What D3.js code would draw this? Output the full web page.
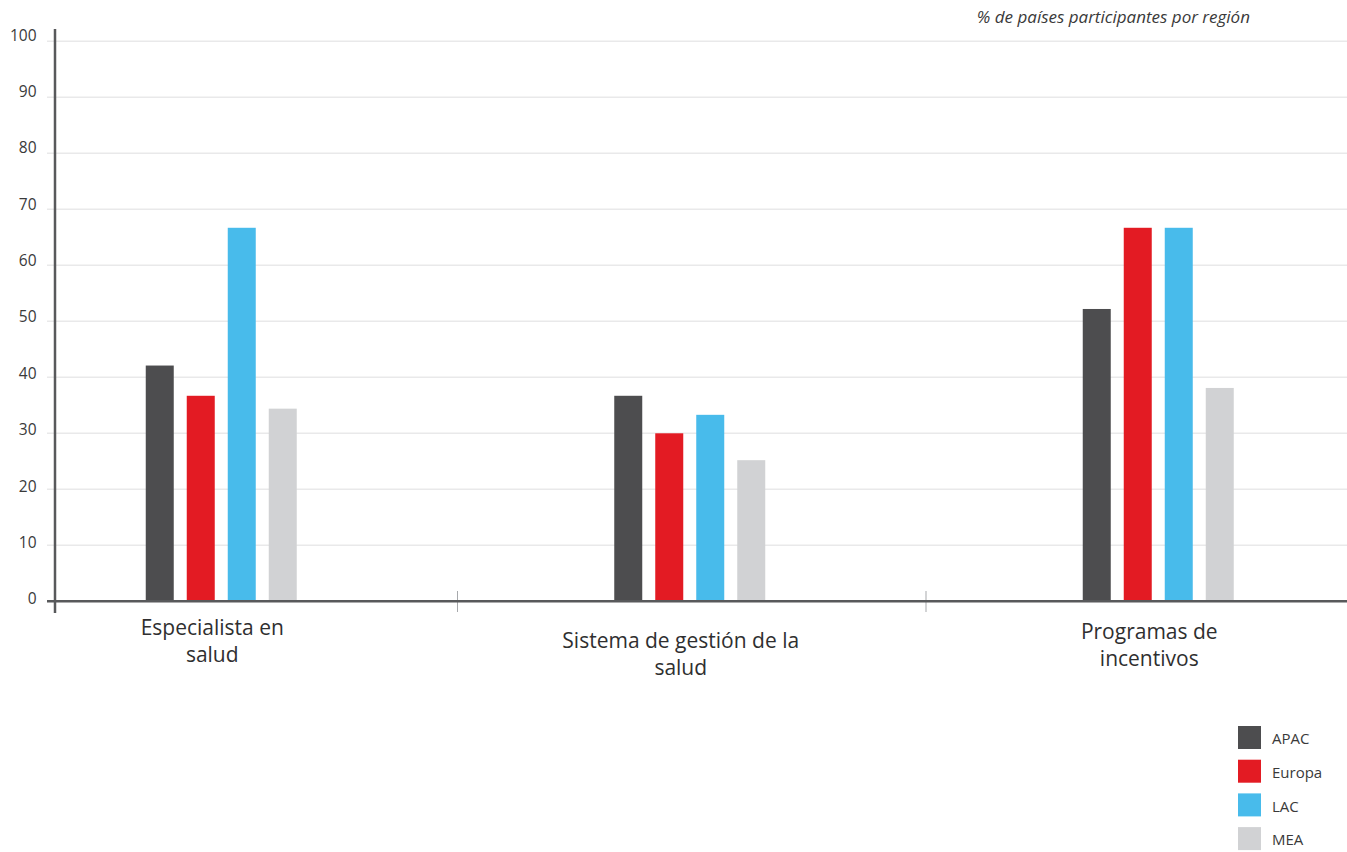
<!DOCTYPE html>
<html>
<head>
<meta charset="utf-8">
<script src="https://cdn.jsdelivr.net/npm/d3@7/dist/d3.min.js"></script>
<style>
  html, body { margin: 0; padding: 0; background: #fff; }
  svg { display: block; }
  text { font-family: "Open Sans", "Noto Sans", sans-serif; }
</style>
</head>
<body>
<svg id="chart" width="1347" height="852"></svg>
<script>
// Categories and regions
const categories = [
  ["Especialista en", "salud"],
  ["Sistema de gestión de la", "salud"],
  ["Programas de", "incentivos"]
];
const regions = ["APAC", "Europa", "LAC", "MEA"];

// % of participating countries, one array per region (order follows categories)
const apac   = [42.1, 36.7, 52.2];
const europa = [36.7, 30.0, 66.7];
const lac    = [66.7, 33.3, 66.7];
const mea    = [34.4, 25.2, 38.1];

const yTicks = [0, 10, 20, 30, 40, 50, 60, 70, 80, 90, 100];
const unitLabel = "% de países participantes por región";

// Colours per region
const colors = ["#4d4d4f", "#e31b23", "#48bbeb", "#d1d2d4"];

const seriesValues = [apac, europa, lac, mea];
const catKeys = categories.map(c => c.join(" "));

const svg = d3.select("#chart");

const y = d3.scaleLinear().domain([0, 100]).range([601.3, 41.3]);
const x0 = d3.scaleBand().domain(catKeys).range([-13, 1392.5]).padding(0);
const x1 = d3.scaleBand().domain(regions).range([-75.5, 75.5]).paddingInner(13 / 41).paddingOuter(0);
const color = d3.scaleOrdinal().domain(regions).range(colors);

// Gridlines
svg.append("g")
  .selectAll("line")
  .data(yTicks.filter(t => t > 0))
  .join("line")
  .attr("x1", 47).attr("x2", 1347)
  .attr("y1", d => y(d)).attr("y2", d => y(d))
  .attr("stroke", "#e9e9ea")
  .attr("stroke-width", 1.5);

// Y tick labels (sit slightly above their gridline)
svg.append("g")
  .selectAll("text")
  .data(yTicks)
  .join("text")
  .attr("x", 36.5)
  .attr("y", d => y(d) - 2.5 - d * 0.035)
  .attr("dy", "0.35em")
  .attr("text-anchor", "end")
  .attr("font-size", 15.5)
  .attr("fill", "#3a3a3a")
  .text(d => d);

// Bars
const groups = svg.append("g")
  .selectAll("g")
  .data(catKeys)
  .join("g")
  .attr("transform", d => `translate(${x0(d) + x0.bandwidth() / 2},0)`);

groups.selectAll("rect")
  .data((d, i) => regions.map((r, j) => ({ region: r, value: seriesValues[j][i] })))
  .join("rect")
  .attr("x", d => x1(d.region))
  .attr("width", x1.bandwidth())
  .attr("y", d => y(d.value))
  .attr("height", d => y(0) - y(d.value))
  .attr("fill", d => color(d.region));

// Category separators
svg.append("g")
  .selectAll("line")
  .data(catKeys.slice(1))
  .join("line")
  .attr("x1", d => x0(d) + 2).attr("x2", d => x0(d) + 2)
  .attr("y1", 591).attr("y2", 612)
  .attr("stroke", "#a7a9ac")
  .attr("stroke-width", 1);

// Baseline and y axis line
svg.append("line")
  .attr("x1", 47).attr("x2", 1347)
  .attr("y1", y(0)).attr("y2", y(0))
  .attr("stroke", "#58595b").attr("stroke-width", 2.5);
svg.append("line")
  .attr("x1", 55).attr("x2", 55)
  .attr("y1", 29).attr("y2", 613)
  .attr("stroke", "#58595b").attr("stroke-width", 2.5);

// Category labels (two lines each)
const labelShift = [-6, 7, -2];
const labels = svg.append("g")
  .selectAll("text")
  .data(categories)
  .join("text")
  .attr("x", (d, i) => x0(catKeys[i]) + x0.bandwidth() / 2 - 9)
  .attr("y", (d, i) => 641 + labelShift[i])
  .attr("text-anchor", "middle")
  .attr("font-size", 21)
  .attr("fill", "#2f2f30");
labels.selectAll("tspan")
  .data(d => d)
  .join("tspan")
  .attr("x", function () { return d3.select(this.parentNode).attr("x"); })
  .attr("dy", (d, i) => i === 0 ? 0 : 27)
  .text(d => d);

// Unit note
svg.append("text")
  .attr("x", 1250).attr("y", 23)
  .attr("text-anchor", "end")
  .attr("font-size", 17)
  .attr("font-style", "italic")
  .attr("fill", "#3a3a3a")
  .text(unitLabel);

// Legend
const legend = svg.append("g")
  .selectAll("g")
  .data(regions)
  .join("g")
  .attr("transform", (d, i) => `translate(1238,${726 + i * 33.7})`);
legend.append("rect")
  .attr("width", 23).attr("height", 23)
  .attr("fill", d => color(d));
legend.append("text")
  .attr("x", 34).attr("y", 13)
  .attr("dy", "0.35em")
  .attr("font-size", 15)
  .attr("fill", "#3a3a3a")
  .text(d => d);
</script>
</body>
</html>
